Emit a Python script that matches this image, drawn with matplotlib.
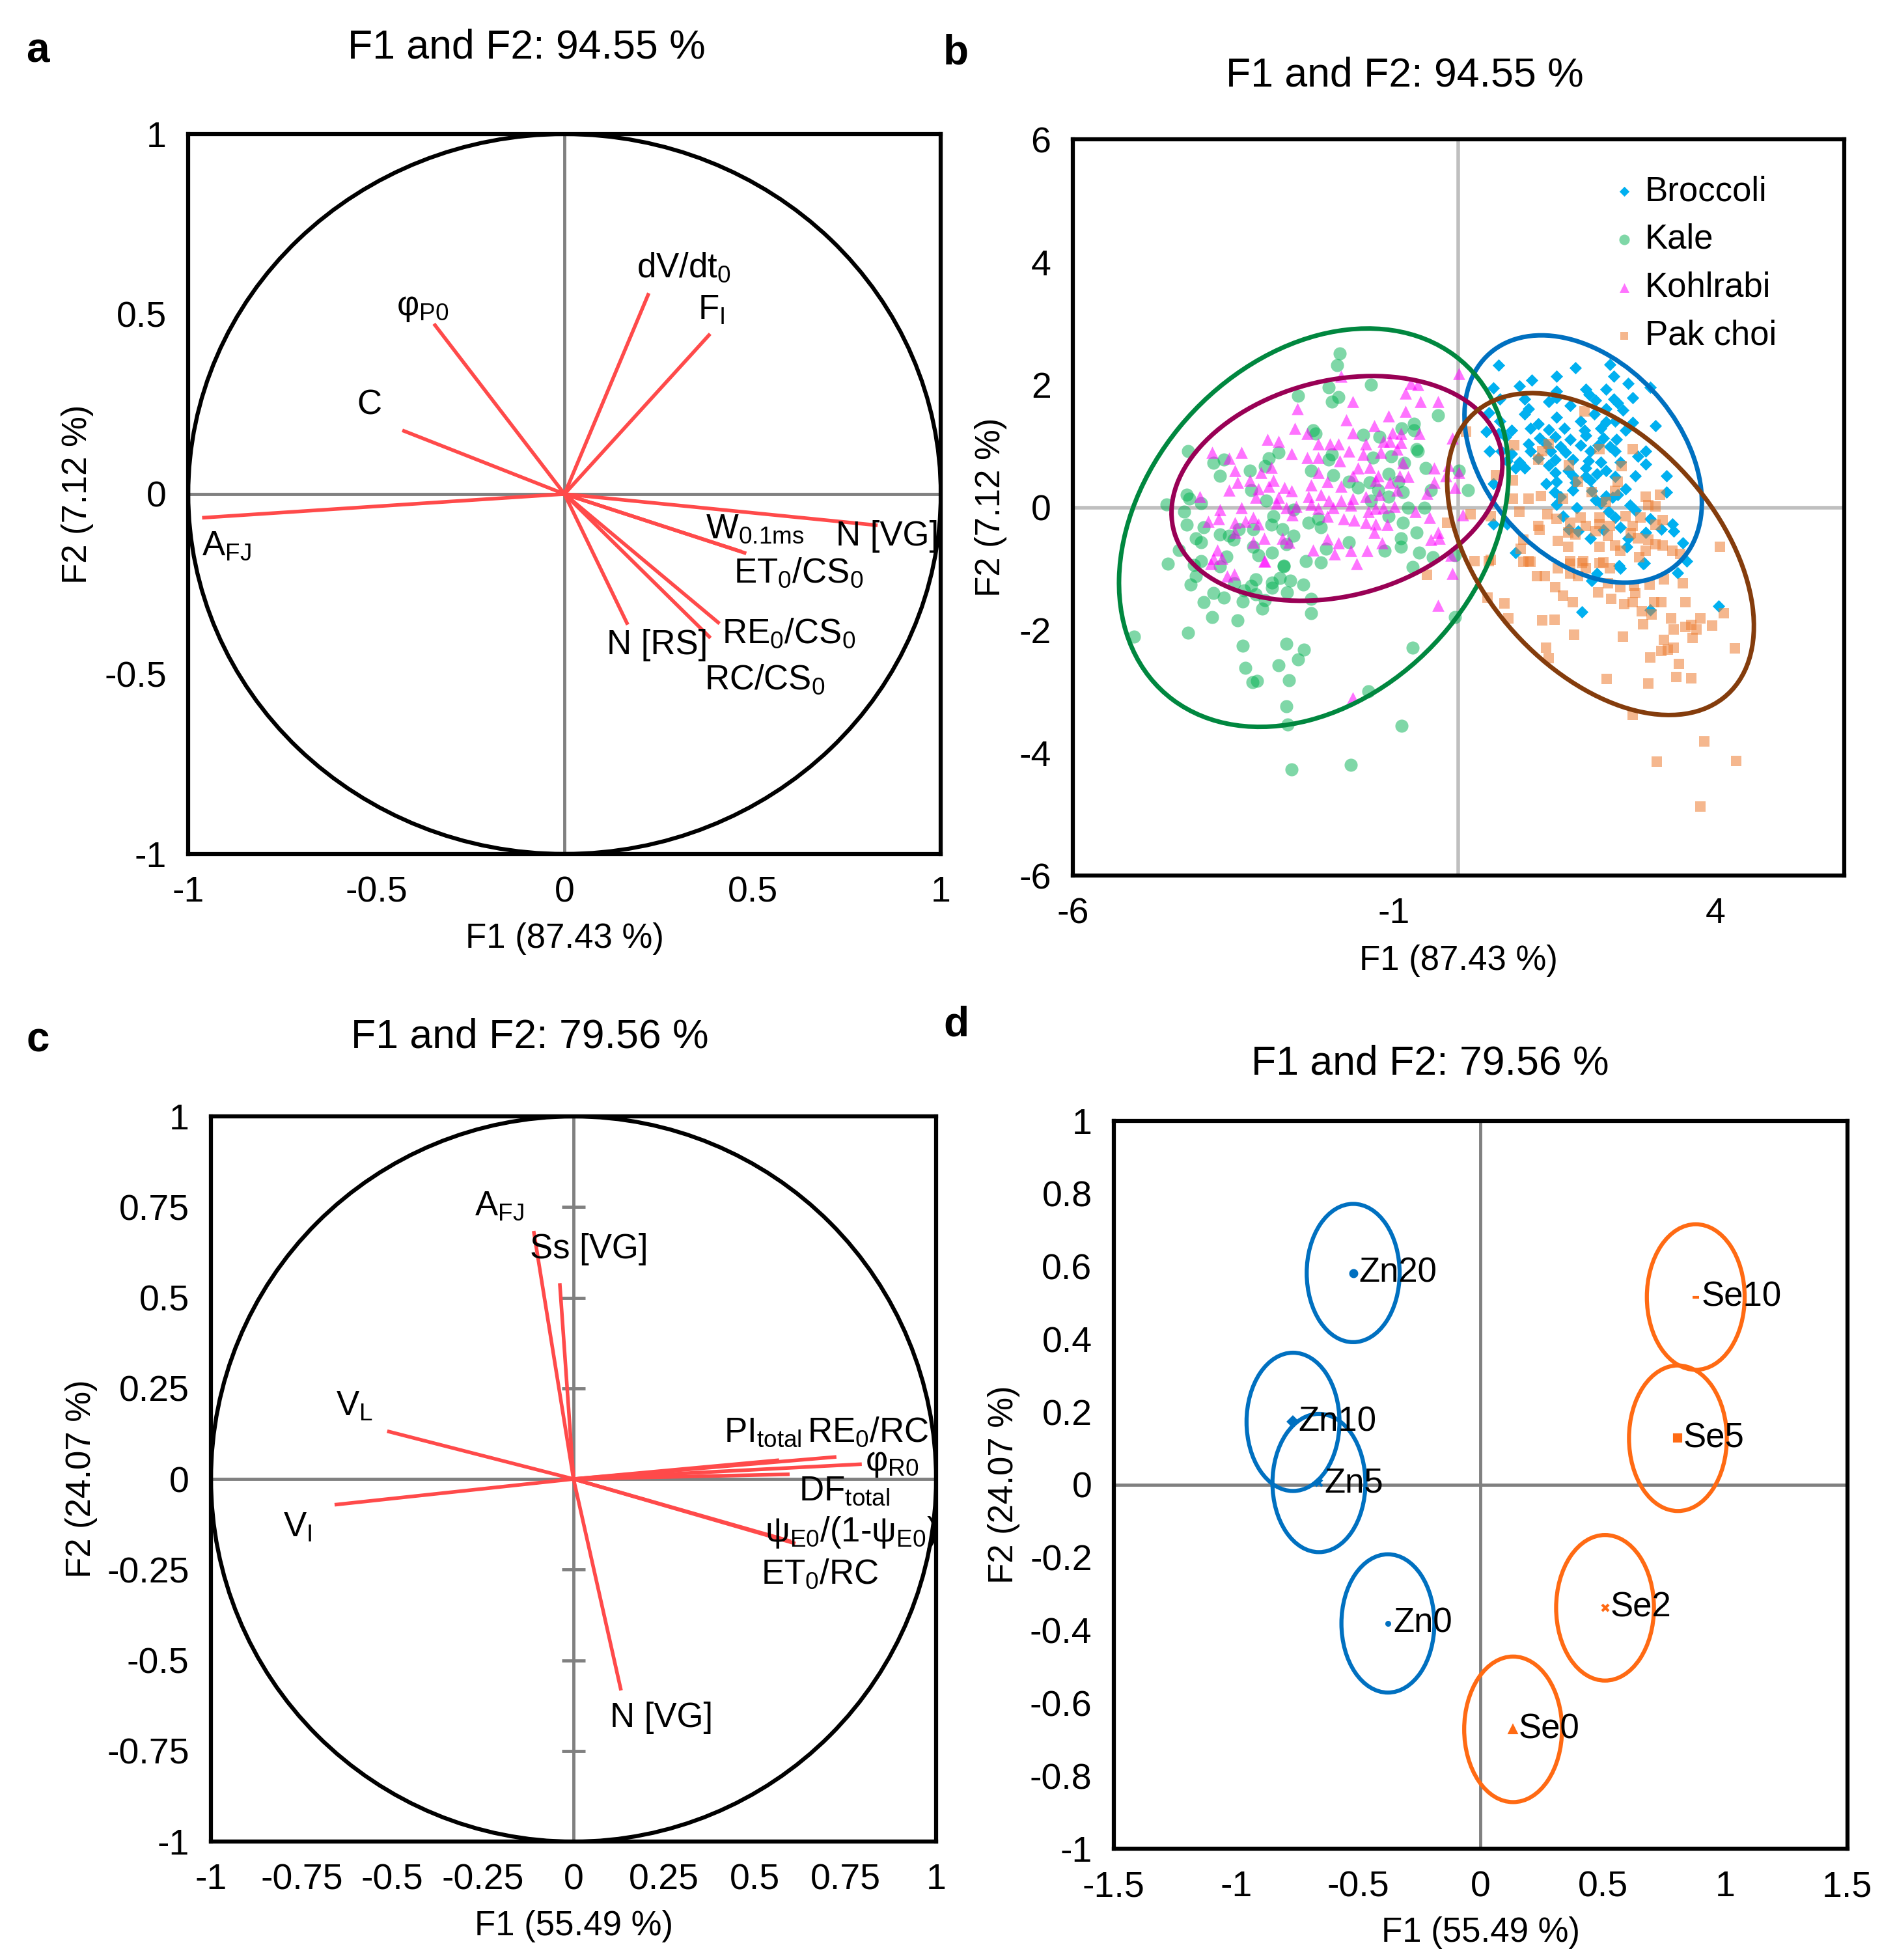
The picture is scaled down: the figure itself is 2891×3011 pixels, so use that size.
import numpy as np
import matplotlib
matplotlib.use("Agg")
import matplotlib.pyplot as plt
from matplotlib.patches import Ellipse, Circle
from matplotlib.ticker import FuncFormatter

plt.rcParams['font.family'] = ['Liberation Sans', 'DejaVu Sans']
plt.rcParams['axes.unicode_minus'] = False
plt.rcParams['mathtext.fontset'] = 'custom'
plt.rcParams['mathtext.rm'] = 'Liberation Sans'

# ---- panel a: correlation circle (species) ----
a_names = ['A$_\\mathregular{FJ}$', 'C', 'φ$_\\mathregular{P0}$', 'dV/dt$_\\mathregular{0}$',
           'F$_\\mathregular{I}$', 'N [VG]', 'W$_\\mathregular{0.1ms}$', 'ET$_\\mathregular{0}$/CS$_\\mathregular{0}$',
           'RE$_\\mathregular{0}$/CS$_\\mathregular{0}$', 'RC/CS$_\\mathregular{0}$', 'N [RS]']
a_x = [-0.963, -0.431, -0.347, 0.224, 0.387, 0.832, 0.470, 0.483, 0.412, 0.388, 0.168]
a_y = [-0.066, 0.177, 0.473, 0.558, 0.445, -0.087, -0.160, -0.165, -0.360, -0.400, -0.363]
a_lab_x = [-0.963, -0.551, -0.447, 0.192, 0.355, 0.721, 0.375, 0.450, 0.419, 0.372, 0.113]
a_lab_y = [-0.170, 0.222, 0.497, 0.601, 0.485, -0.143, -0.123, -0.246, -0.415, -0.544, -0.445]

# ---- panel b: observations ----
broccoli = np.array([
    (0.62, 2.32), (1.82, 2.28), (2.36, 2.33), (1.53, 2.14), (1.14, 2.07), (0.95, 1.98), (0.54, 1.95),
    (2.42, 2.14), (2.64, 2.02), (2.98, 1.96), (1.98, 1.93), (2.29, 1.93), (1.53, 1.89), (2.03, 1.84),
    (0.64, 1.77), (1.03, 1.77), (1.40, 1.72), (1.53, 1.79), (2.13, 1.75), (2.42, 1.77), (2.71, 1.79),
    (1.74, 1.66), (2.29, 1.61), (2.48, 1.70), (2.56, 1.59), (1.09, 1.61), (1.03, 1.52), (0.47, 1.54),
    (0.64, 1.41), (1.53, 1.47), (2.11, 1.52), (1.90, 1.41), (2.29, 1.40), (2.44, 1.41), (2.71, 1.38),
    (3.06, 1.33), (1.12, 1.29), (1.24, 1.36), (1.40, 1.27), (1.65, 1.29), (1.96, 1.26), (2.21, 1.29),
    (2.60, 1.26), (0.43, 1.24), (0.62, 1.20), (0.83, 1.26), (0.74, 1.15), (1.26, 1.13), (1.51, 1.15),
    (1.74, 1.11), (1.98, 1.17), (2.25, 1.13), (2.46, 1.11), (1.09, 1.03), (1.36, 1.04), (1.59, 0.99),
    (1.90, 1.01), (2.17, 1.01), (2.36, 0.99), (0.48, 0.92), (0.66, 0.92), (0.83, 0.88), (1.12, 0.92),
    (1.43, 0.92), (1.67, 0.90), (2.05, 0.92), (2.44, 0.92), (2.91, 0.92), (0.76, 0.76), (0.95, 0.74),
    (1.24, 0.80), (1.51, 0.78), (1.78, 0.78), (2.02, 0.76), (2.21, 0.74), (2.52, 0.74), (2.79, 0.83),
    (2.91, 0.71), (0.89, 0.64), (1.03, 0.64), (1.40, 0.69), (1.71, 0.60), (1.98, 0.64), (2.29, 0.60),
    (1.51, 0.57), (1.78, 0.51), (1.98, 0.50), (2.15, 0.55), (2.44, 0.50), (2.75, 0.51), (3.24, 0.51),
    (0.54, 0.39), (1.53, 0.42), (1.82, 0.41), (2.05, 0.44), (1.36, 0.39), (1.49, 0.25), (1.78, 0.28),
    (2.07, 0.27), (2.60, 0.30), (3.24, 0.25), (1.59, 0.18), (2.13, 0.12), (2.29, 0.19), (2.40, 0.16),
    (2.48, 0.21), (1.53, 0.05), (1.84, 0.00), (2.21, 0.07), (2.67, 0.04), (2.75, -0.05), (2.34, -0.07),
    (2.44, -0.16), (1.63, -0.14), (2.98, -0.18), (0.54, -0.27), (0.76, -0.27), (1.72, -0.35), (1.86, -0.39),
    (2.25, -0.37), (2.52, -0.32), (2.64, -0.50), (2.91, -0.41), (3.16, -0.35), (3.33, -0.27), (3.35, -0.39),
    (2.05, -0.50), (3.49, -0.58), (2.62, -0.64), (0.89, -0.74), (3.55, -0.87), (2.87, -0.92), (2.50, -0.95),
    (2.15, -1.08), (2.52, -0.99), (2.89, -0.91), (3.41, -1.07), (2.07, -1.19), (1.92, -1.70), (2.98, -1.67),
    (4.05, -1.61)])

kale = np.array([
    (-1.85, 2.51), (-1.89, 2.32), (-1.36, 2.00), (-2.02, 1.96), (-2.49, 1.82), (-1.87, 1.80), (-1.97, 1.72),
    (-0.32, 1.50), (-0.69, 1.36), (-0.88, 1.29), (-0.69, 1.26), (-2.26, 1.26), (-2.22, 1.20), (-1.48, 1.18),
    (-1.23, 1.15), (-0.65, 0.95), (-0.63, 0.92), (-1.05, 0.83), (-1.33, 0.81), (-1.97, 0.87), (-2.02, 0.78),
    (-2.80, 0.90), (-2.95, 0.80), (-4.21, 0.92), (-3.81, 0.73), (-3.65, 0.78), (-3.71, 0.51), (-3.24, 0.60),
    (-3.01, 0.67), (-3.22, 0.28), (-2.99, 0.11), (-2.29, 0.60), (-1.95, 0.53), (-1.71, 0.42), (-1.09, 0.55),
    (-0.94, 0.42), (-0.84, 0.73), (-0.51, 0.64), (-0.43, 0.28), (-1.38, 0.41), (-1.56, 0.32), (-1.25, 0.28),
    (-1.36, 0.11), (-1.09, 0.18), (-0.86, 0.25), (-0.78, 0.00), (-0.53, 0.00), (-0.86, -0.25), (-1.09, -0.14),
    (-2.18, -0.18), (-2.33, -0.25), (-2.14, -0.32), (-2.57, -0.04), (-2.88, -0.14), (-2.91, -0.28), (-2.74, -0.35),
    (-2.57, -0.46), (-2.68, -0.60), (-3.19, -0.35), (-3.42, -0.35), (-3.57, -0.46), (-3.71, -0.44), (-3.96, -0.32),
    (-4.08, -0.50), (-4.00, -0.57), (-3.50, -0.53), (-4.23, -0.28), (-4.27, -0.07), (-4.23, 0.21), (-4.19, 0.14),
    (-4.00, 0.07), (-4.54, 0.05), (-4.35, -0.69), (-4.00, -0.88), (-4.52, -0.92), (-3.61, -0.80), (-3.19, -0.64),
    (-3.11, -0.78), (-2.90, -0.74), (-2.72, -0.95), (-2.37, -0.88), (-2.14, -0.90), (-2.06, -0.67), (-1.71, -0.57),
    (-1.15, -0.71), (-0.90, -0.50), (-0.90, -0.64), (-0.65, -0.41), (-0.61, -0.74), (-0.40, -0.81), (-0.05, -0.78),
    (0.15, 0.28), (0.01, 0.60), (-4.12, -0.94), (-4.08, -1.12), (-4.17, -1.26), (-3.71, -0.96), (-3.81, -1.40),
    (-3.65, -1.47), (-3.96, -1.54), (-3.49, -1.24), (-3.34, -1.35), (-3.22, -1.28), (-3.15, -1.17), (-3.36, -1.53),
    (-3.15, -1.42), (-3.01, -1.51), (-3.05, -1.65), (-2.90, -1.23), (-2.90, -1.31), (-2.78, -1.15), (-2.62, -1.19),
    (-2.72, -0.96), (-2.41, -1.26), (-2.67, -1.38), (-2.29, -1.49), (-2.29, -1.72), (-3.83, -1.79), (-3.44, -1.84),
    (-4.21, -2.04), (-5.05, -2.11), (-3.36, -2.25), (-2.68, -2.22), (-2.40, -2.32), (-2.49, -2.48), (-2.80, -2.57),
    (-3.32, -2.62), (-3.20, -2.85), (-3.13, -2.83), (-2.64, -2.82), (-2.68, -3.24), (-2.66, -3.54), (-1.40, -3.00),
    (-0.71, -2.29), (-0.05, -1.79), (-0.88, -3.56), (-1.67, -4.20), (-2.60, -4.27), (-0.71, -0.97)])

kohlrabi = np.array([
    (-1.83, 2.14), (0.01, 2.18), (-0.74, 2.02), (-0.63, 2.00), (-0.82, 1.86), (-1.64, 1.72), (-0.59, 1.72),
    (-0.32, 1.73), (-2.51, 1.61), (-1.09, 1.49), (-0.82, 1.57), (-1.75, 1.43), (-1.31, 1.33), (-2.55, 1.29),
    (-1.64, 1.22), (-2.35, 1.20), (-1.03, 1.22), (-0.90, 1.20), (-0.61, 1.20), (-2.97, 1.11), (-2.80, 1.08),
    (-2.18, 1.04), (-2.00, 1.04), (-1.87, 1.04), (-1.44, 1.04), (-1.17, 1.08), (-1.07, 1.08), (-0.90, 1.06),
    (-0.09, 1.13), (-3.83, 0.90), (-3.38, 0.90), (-3.57, 0.80), (-2.60, 0.88), (-2.35, 0.81), (-2.18, 0.81),
    (-1.71, 0.92), (-1.48, 0.87), (-1.21, 0.90), (-0.96, 0.95), (-1.85, 0.76), (-0.86, 0.73), (-0.16, 0.69),
    (-3.48, 0.60), (-3.07, 0.57), (-2.91, 0.65), (-2.18, 0.57), (-1.56, 0.64), (-1.38, 0.65), (-0.38, 0.64),
    (-1.64, 0.51), (-1.25, 0.51), (-0.92, 0.51), (-0.78, 0.50), (-0.20, 0.51), (0.01, 0.57), (-3.44, 0.41),
    (-3.24, 0.44), (-2.88, 0.44), (-2.04, 0.42), (-0.38, 0.41), (-3.57, 0.28), (-3.11, 0.30), (-2.95, 0.35),
    (-2.71, 0.32), (-2.60, 0.27), (-2.29, 0.37), (-1.83, 0.35), (-1.29, 0.44), (-1.07, 0.41), (-0.96, 0.28),
    (-0.05, 0.32), (-0.49, 0.23), (-4.02, 0.18), (-3.15, 0.16), (-2.80, 0.16), (-2.33, 0.18), (-2.14, 0.21),
    (-2.02, 0.11), (-1.83, 0.11), (-1.64, 0.14), (-1.44, 0.18), (-1.23, 0.21), (-3.38, 0.00), (-2.83, 0.07),
    (-2.68, 0.00), (-2.53, 0.02), (-2.29, 0.05), (-2.18, -0.02), (-1.95, 0.00), (-1.67, 0.04), (-1.29, -0.02),
    (-1.17, 0.00), (-1.00, 0.02), (-1.40, -0.07), (-0.67, -0.07), (-0.45, -0.16), (0.07, -0.12), (-3.71, -0.04),
    (-3.89, -0.23), (-3.73, -0.18), (-3.48, -0.25), (-3.32, -0.23), (-3.19, -0.16), (-3.11, -0.27), (-2.59, -0.12),
    (-2.04, -0.14), (-1.79, -0.18), (-1.62, -0.21), (-1.44, -0.25), (-1.29, -0.27), (-1.11, -0.28), (-1.31, -0.41),
    (-3.48, -0.41), (-2.04, -0.51), (-1.87, -0.58), (-3.19, -0.57), (-3.02, -0.50), (-2.74, -0.50), (-2.64, -0.57),
    (-2.26, -0.69), (-1.93, -0.76), (-1.67, -0.71), (-1.42, -0.71), (-1.19, -0.58), (-0.43, -0.53), (-0.32, -0.41),
    (-0.30, -0.50), (-0.12, -0.78), (-3.75, -0.69), (-3.81, -0.83), (-3.68, -0.83), (-3.02, -0.88), (-1.58, -0.92),
    (-3.85, -0.92), (-3.60, -1.12), (-3.49, -1.09), (-3.01, -0.87), (-0.10, -1.08), (-0.32, -1.60), (-1.64, -3.10)])

pak_choi = np.array([
    (0.87, 1.01), (1.40, 1.03), (1.30, 0.92), (1.96, 1.57), (2.19, 0.95), (2.71, 0.95), (0.85, 0.44),
    (0.58, 0.53), (1.24, 0.78), (1.72, 0.69), (2.54, 0.67), (2.48, 0.42), (1.86, 0.42), (2.07, 0.25),
    (0.85, 0.14), (1.09, 0.14), (1.28, 0.19), (1.63, 0.14), (2.29, 0.09), (2.44, 0.27), (2.91, 0.18),
    (3.14, 0.21), (2.95, 0.04), (3.06, 0.02), (0.19, -0.11), (0.50, -0.14), (0.95, -0.07), (1.38, -0.11),
    (1.53, -0.19), (1.90, -0.16), (2.19, -0.16), (2.60, -0.14), (2.83, -0.16), (3.18, -0.21), (1.24, -0.30),
    (1.74, -0.25), (1.98, -0.30), (2.19, -0.27), (2.36, -0.30), (2.71, -0.30), (3.06, -0.28), (1.26, -0.37),
    (1.71, -0.41), (1.82, -0.44), (2.13, -0.39), (2.33, -0.46), (2.68, -0.42), (2.79, -0.50), (2.95, -0.53),
    (3.06, -0.60), (3.18, -0.62), (1.55, -0.55), (1.01, -0.53), (1.71, -0.64), (2.19, -0.64), (2.44, -0.62),
    (4.07, -0.64), (0.97, -0.67), (0.25, -0.88), (0.50, -0.85), (1.09, -0.87), (1.74, -0.88), (1.94, -0.88),
    (2.25, -0.90), (2.81, -0.81), (2.91, -0.71), (2.52, -0.71), (3.33, -0.71), (3.45, -0.76), (0.12, 1.24),
    (0.47, -0.87), (1.01, -0.89), (1.12, -0.89), (1.55, -0.99), (1.74, -0.92), (1.92, -0.91), (1.98, -0.99),
    (2.19, -0.91), (2.36, -0.99), (1.22, -1.12), (1.34, -1.12), (1.74, -1.08), (1.86, -1.12), (1.51, -1.30),
    (2.33, -1.24), (2.52, -1.30), (2.73, -1.28), (2.97, -1.26), (3.20, -1.17), (3.49, -1.24), (2.17, -1.38),
    (2.75, -1.40), (1.63, -1.44), (2.38, -1.49), (0.45, -1.47), (0.72, -1.56), (1.78, -1.54), (2.58, -1.58),
    (2.71, -1.54), (3.04, -1.54), (3.16, -1.54), (3.53, -1.54), (2.85, -1.69), (3.00, -1.74), (4.13, -1.72),
    (0.78, -1.81), (1.30, -1.84), (1.49, -1.83), (2.87, -1.90), (3.31, -1.81), (3.76, -1.81), (3.62, -1.92),
    (3.53, -1.95), (3.95, -1.93), (3.35, -1.99), (3.70, -1.99), (1.80, -2.07), (2.56, -2.11), (3.64, -2.13),
    (3.20, -2.16), (4.30, -2.30), (1.36, -2.29), (3.35, -2.29), (3.16, -2.34), (3.26, -2.32), (1.40, -2.46),
    (2.98, -2.45), (3.43, -2.55), (2.31, -2.80), (2.95, -2.87), (3.39, -2.76), (3.62, -2.78), (2.71, -3.38),
    (3.82, -3.81), (3.08, -4.14), (4.32, -4.13), (3.76, -4.87), (-0.18, -0.25), (-0.49, -1.10)])

# confidence ellipses: centre x, centre y, width, height, angle (deg)
b_groups = ['Broccoli', 'Kale', 'Kohlrabi', 'Pak choi']
b_ell = {'Broccoli': (1.94, 0.79, 4.51, 3.09, -52),
         'Kale': (-2.25, -0.33, 7.12, 5.31, 52),
         'Kohlrabi': (-1.89, 0.31, 5.26, 3.50, 16),
         'Pak choi': (2.21, -0.76, 6.05, 3.70, -51)}

# ---- panel c: correlation circle (treatments) ----
c_names = ['A$_\\mathregular{FJ}$', 'Ss [VG]', 'V$_\\mathregular{L}$', 'V$_\\mathregular{I}$', 'N [VG]',
           'PI$_\\mathregular{total}$', 'RE$_\\mathregular{0}$/RC', 'φ$_\\mathregular{R0}$', 'DF$_\\mathregular{total}$',
           'ψ$_\\mathregular{E0}$/(1-ψ$_\\mathregular{E0}$)', 'ET$_\\mathregular{0}$/RC']
c_x = [-0.110, -0.038, -0.514, -0.659, 0.131, 0.567, 0.725, 0.795, 0.596, 0.600, 0.612]
c_y = [0.684, 0.540, 0.132, -0.071, -0.583, 0.052, 0.061, 0.041, 0.013, -0.172, -0.178]
c_lab_x = [-0.273, -0.121, -0.656, -0.800, 0.100, 0.414, 0.644, 0.805, 0.622, 0.527, 0.517]
c_lab_y = [0.727, 0.609, 0.175, -0.158, -0.684, 0.102, 0.102, 0.023, -0.059, -0.172, -0.290]

# ---- panel d: treatment centroids ----
d_names = ['Zn20', 'Zn10', 'Zn5', 'Zn0', 'Se10', 'Se5', 'Se2', 'Se0']
d_x = [-0.521, -0.767, -0.661, -0.379, 0.880, 0.807, 0.509, 0.133]
d_y = [0.582, 0.173, 0.005, -0.381, 0.516, 0.128, -0.338, -0.672]
d_radius = [0.19, 0.19, 0.19, 0.19, 0.20, 0.20, 0.20, 0.20]
d_marker = ['o', 'D', 'x', '.', '_', 's', 'x', '^']

red = '#FF4A4A'
fmt = FuncFormatter(lambda v, p: '{:g}'.format(round(v, 3)))

fig = plt.figure(figsize=(28.91, 30.11), dpi=100)


def style(ax, xl, yl, title, tx, ty, xlx, xly, ylx, yly):
    for s in ax.spines.values():
        s.set_linewidth(4.5)
        s.set_color('black')
    ax.tick_params(length=0, labelsize=40, pad=24)
    ax.xaxis.set_major_formatter(fmt)
    ax.yaxis.set_major_formatter(fmt)
    ax.set_xlabel(xl, fontsize=38)
    ax.xaxis.set_label_coords(xlx, xly)
    ax.set_ylabel(yl, fontsize=38, va='center')
    ax.yaxis.set_label_coords(ylx, yly)
    ax.text(tx, ty, title, transform=ax.transAxes, ha='center', va='center', fontsize=45)


# a
ax = fig.add_axes([0.1000, 0.5643, 0.3999, 0.3673])
ax.set_xlim(-1, 1)
ax.set_ylim(-1, 1)
ax.set_xticks([-1, -0.5, 0, 0.5, 1])
ax.set_yticks([-1, -0.5, 0, 0.5, 1])
ax.axhline(0, color='#808080', lw=3.5, zorder=1)
ax.axvline(0, color='#808080', lw=3.5, zorder=1)
ax.add_patch(Circle((0, 0), 1, fill=False, ec='black', lw=4.5, zorder=2))
for x, y in zip(a_x, a_y):
    ax.plot([0, x], [0, y], color=red, lw=4, zorder=3, solid_capstyle='butt')
for n, x, y in zip(a_names, a_lab_x, a_lab_y):
    ax.text(x, y, n, fontsize=38, ha='left', va='baseline', zorder=4)
style(ax, 'F1 (87.43 %)', 'F2 (7.12 %)', 'F1 and F2: 94.55 %', 0.45, 1.12, 0.5, -0.095, -0.147, 0.5)

# b
ax = fig.add_axes([0.5700, 0.5533, 0.4099, 0.3756])
ax.set_xlim(-6, 6)
ax.set_ylim(-6, 6)
ax.set_xticks([-6, -1, 4])
ax.set_yticks([-6, -4, -2, 0, 2, 4, 6])
ax.axhline(0, color='#BFBFBF', lw=4, zorder=1)
ax.axvline(0, color='#BFBFBF', lw=4, zorder=1)
ax.scatter(broccoli[:, 0], broccoli[:, 1], marker='D', s=95, color='#00B0F0', lw=0, zorder=2, label='Broccoli')
ax.scatter(kale[:, 0], kale[:, 1], marker='o', s=210, color='#00B050', alpha=0.5, lw=0, zorder=2, label='Kale')
ax.scatter(kohlrabi[:, 0], kohlrabi[:, 1], marker='^', s=180, color='#FF00FF', alpha=0.55, lw=0, zorder=2,
           label='Kohlrabi')
ax.scatter(pak_choi[:, 0], pak_choi[:, 1], marker='s', s=125, color='#ED7D31', alpha=0.55, lw=0, zorder=2,
           label='Pak choi')
ell_col = {'Broccoli': '#0070C0', 'Kale': '#00873F', 'Kohlrabi': '#990055', 'Pak choi': '#843C0C'}
for g in b_groups:
    cx, cy, w, h, ang = b_ell[g]
    ax.add_patch(Ellipse((cx, cy), w, h, angle=ang, fill=False, ec=ell_col[g], lw=5, zorder=3))
ax.legend(loc='upper right', bbox_to_anchor=(0.93, 0.97), frameon=False, fontsize=38, borderaxespad=0,
          handletextpad=0.2, handlelength=0.8, labelspacing=0.45, markerscale=0.8)
style(ax, 'F1 (87.43 %)', 'F2 (7.12 %)', 'F1 and F2: 94.55 %', 0.43, 1.087, 0.5, -0.094, -0.106, 0.5)

# c
ax = fig.add_axes([0.1121, 0.0604, 0.3853, 0.3700])
ax.set_xlim(-1, 1)
ax.set_ylim(-1, 1)
ticks_c = [-1, -0.75, -0.5, -0.25, 0, 0.25, 0.5, 0.75, 1]
ax.set_xticks(ticks_c)
ax.set_yticks(ticks_c)
ax.axhline(0, color='#808080', lw=3.5, zorder=1)
ax.axvline(0, color='#808080', lw=3.5, zorder=1)
ax.plot(np.zeros(len(ticks_c) - 3), [t for t in ticks_c if t not in (-1, 0, 1)], ls='none', marker='_',
        ms=26, mew=3.5, color='#808080', zorder=1)
ax.add_patch(Circle((0, 0), 1, fill=False, ec='black', lw=4.5, zorder=2))
for x, y in zip(c_x, c_y):
    ax.plot([0, x], [0, y], color=red, lw=4, zorder=3, solid_capstyle='butt')
for n, x, y in zip(c_names, c_lab_x, c_lab_y):
    ax.text(x, y, n, fontsize=38, ha='left', va='baseline', zorder=4)
style(ax, 'F1 (55.49 %)', 'F2 (24.07 %)', 'F1 and F2: 79.56 %', 0.44, 1.11, 0.5, -0.094, -0.179, 0.5)

# d
ax = fig.add_axes([0.5918, 0.0568, 0.3898, 0.3713])
ax.set_xlim(-1.5, 1.5)
ax.set_ylim(-1, 1)
ax.set_xticks([-1.5, -1, -0.5, 0, 0.5, 1, 1.5])
ax.set_yticks([-1, -0.8, -0.6, -0.4, -0.2, 0, 0.2, 0.4, 0.6, 0.8, 1])
ax.axhline(0, color='#808080', lw=3.5, zorder=1)
ax.axvline(0, color='#808080', lw=3.5, zorder=1)
for n, x, y, r, m in zip(d_names, d_x, d_y, d_radius, d_marker):
    col = '#0070C0' if n.startswith('Zn') else '#FF6A13'
    ax.add_patch(Ellipse((x, y), 2 * r, 2 * r, fill=False, ec=col, lw=4.5, zorder=2))
    ax.plot(x, y, marker=m, ms=7, mew=3, color=col, ls='none', zorder=3)
    ax.annotate(n, (x, y), xytext=(6, 0), textcoords='offset points', fontsize=38, ha='left', va='center',
                zorder=4)
style(ax, 'F1 (55.49 %)', 'F2 (24.07 %)', 'F1 and F2: 79.56 %', 0.431, 1.079, 0.5, -0.093, -0.15, 0.5)

for lbl, x, y in [('a', 0.020, 0.974), ('b', 0.508, 0.973), ('c', 0.020, 0.469), ('d', 0.508, 0.477)]:
    fig.text(x, y, lbl, fontsize=46, fontweight='bold', ha='center', va='center')

fig.savefig('out.png', dpi=100)
